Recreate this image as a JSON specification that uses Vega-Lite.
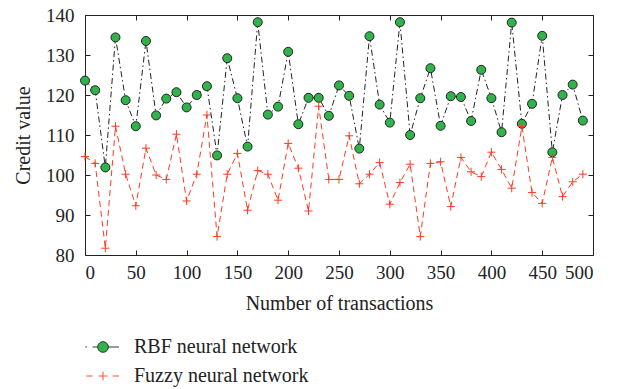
{
  "$schema": "https://vega.github.io/schema/vega-lite/v6.json",
  "width": 508,
  "height": 240,
  "autosize": {"type": "none"},
  "padding": {"left": 85, "top": 15, "right": 29, "bottom": 134},
  "background": "white",
  "config": {
    "view": {"stroke": null},
    "font": "Liberation Serif",
    "axis": {
      "grid": false,
      "domainColor": "#222222",
      "tickColor": "#222222",
      "labelColor": "#222222",
      "titleColor": "#222222",
      "labelFont": "Liberation Serif",
      "titleFont": "Liberation Serif",
      "labelFontSize": 19,
      "titleFontSize": 20,
      "titleFontWeight": "normal",
      "tickSize": -5,
      "domainWidth": 1,
      "tickWidth": 1
    },
    "legend": {
      "title": null,
      "orient": "none",
      "legendX": 8,
      "legendY": 322,
      "direction": "vertical",
      "padding": 0,
      "rowPadding": 9,
      "symbolSize": 256,
      "symbolStrokeWidth": 1,
      "labelFont": "Liberation Serif",
      "labelFontSize": 20,
      "labelColor": "#222222",
      "labelOffset": 21,
      "labelLimit": 400
    }
  },
  "data": {
    "values": [
      {"n": 0, "RBF neural network": 123.6, "Fuzzy neural network": 104.6},
      {"n": 10, "RBF neural network": 121.2, "Fuzzy neural network": 102.9},
      {"n": 20, "RBF neural network": 101.9, "Fuzzy neural network": 81.7},
      {"n": 30, "RBF neural network": 134.4, "Fuzzy neural network": 112.2},
      {"n": 40, "RBF neural network": 118.7, "Fuzzy neural network": 100.2},
      {"n": 50, "RBF neural network": 112.2, "Fuzzy neural network": 92.3},
      {"n": 60, "RBF neural network": 133.5, "Fuzzy neural network": 106.7},
      {"n": 70, "RBF neural network": 114.9, "Fuzzy neural network": 100.0},
      {"n": 80, "RBF neural network": 119.1, "Fuzzy neural network": 98.9},
      {"n": 90, "RBF neural network": 120.7, "Fuzzy neural network": 110.2},
      {"n": 100, "RBF neural network": 116.9, "Fuzzy neural network": 93.5},
      {"n": 110, "RBF neural network": 120.0, "Fuzzy neural network": 100.2},
      {"n": 120, "RBF neural network": 122.2, "Fuzzy neural network": 115.0},
      {"n": 130, "RBF neural network": 104.9, "Fuzzy neural network": 84.6},
      {"n": 140, "RBF neural network": 129.2, "Fuzzy neural network": 100.2},
      {"n": 150, "RBF neural network": 119.2, "Fuzzy neural network": 105.4},
      {"n": 160, "RBF neural network": 107.1, "Fuzzy neural network": 91.2},
      {"n": 170, "RBF neural network": 138.2, "Fuzzy neural network": 101.1},
      {"n": 180, "RBF neural network": 115.1, "Fuzzy neural network": 100.2},
      {"n": 190, "RBF neural network": 117.1, "Fuzzy neural network": 93.7},
      {"n": 200, "RBF neural network": 130.8, "Fuzzy neural network": 107.9},
      {"n": 210, "RBF neural network": 112.7, "Fuzzy neural network": 101.7},
      {"n": 220, "RBF neural network": 119.3, "Fuzzy neural network": 91.0},
      {"n": 230, "RBF neural network": 119.3, "Fuzzy neural network": 117.2},
      {"n": 240, "RBF neural network": 114.8, "Fuzzy neural network": 98.9},
      {"n": 250, "RBF neural network": 122.4, "Fuzzy neural network": 98.9},
      {"n": 260, "RBF neural network": 119.8, "Fuzzy neural network": 109.8},
      {"n": 270, "RBF neural network": 106.6, "Fuzzy neural network": 97.8},
      {"n": 280, "RBF neural network": 134.7, "Fuzzy neural network": 100.2},
      {"n": 290, "RBF neural network": 117.6, "Fuzzy neural network": 103.1},
      {"n": 300, "RBF neural network": 113.1, "Fuzzy neural network": 92.7},
      {"n": 310, "RBF neural network": 138.2, "Fuzzy neural network": 98.1},
      {"n": 320, "RBF neural network": 110.0, "Fuzzy neural network": 102.7},
      {"n": 330, "RBF neural network": 119.2, "Fuzzy neural network": 84.6},
      {"n": 340, "RBF neural network": 126.7, "Fuzzy neural network": 102.9},
      {"n": 350, "RBF neural network": 112.3, "Fuzzy neural network": 103.3},
      {"n": 360, "RBF neural network": 119.7, "Fuzzy neural network": 92.1},
      {"n": 370, "RBF neural network": 119.5, "Fuzzy neural network": 104.4},
      {"n": 380, "RBF neural network": 113.5, "Fuzzy neural network": 100.8},
      {"n": 390, "RBF neural network": 126.3, "Fuzzy neural network": 99.6},
      {"n": 400, "RBF neural network": 119.2, "Fuzzy neural network": 105.7},
      {"n": 410, "RBF neural network": 110.7, "Fuzzy neural network": 101.4},
      {"n": 420, "RBF neural network": 138.1, "Fuzzy neural network": 96.7},
      {"n": 430, "RBF neural network": 112.8, "Fuzzy neural network": 112.1},
      {"n": 440, "RBF neural network": 117.8, "Fuzzy neural network": 95.6},
      {"n": 450, "RBF neural network": 134.8, "Fuzzy neural network": 92.9},
      {"n": 460, "RBF neural network": 105.7, "Fuzzy neural network": 104.4},
      {"n": 470, "RBF neural network": 120.0, "Fuzzy neural network": 94.6},
      {"n": 480, "RBF neural network": 122.6, "Fuzzy neural network": 98.3},
      {"n": 490, "RBF neural network": 113.6, "Fuzzy neural network": 100.2}
    ]
  },
  "transform": [
    {"fold": ["RBF neural network", "Fuzzy neural network"], "as": ["series", "value"]}
  ],
  "layer": [
    {
      "mark": {"type": "line", "strokeWidth": 1},
      "encoding": {
        "x": {
          "field": "n", "type": "quantitative",
          "scale": {"domain": [0, 500], "nice": false, "zero": false},
          "axis": {"values": [0, 50, 100, 150, 200, 250, 300, 350, 400, 450, 500], "title": "Number of transactions", "labelPadding": 13, "titlePadding": 11}
        },
        "y": {
          "field": "value", "type": "quantitative",
          "scale": {"domain": [80, 140], "nice": false, "zero": false},
          "axis": {"values": [80, 90, 100, 110, 120, 130, 140], "title": "Credit value", "labelPadding": 16, "titlePadding": 12}
        },
        "stroke": {
          "field": "series", "type": "nominal",
          "scale": {"domain": ["RBF neural network", "Fuzzy neural network"], "range": ["#222222", "#ff3a21"]},
          "legend": {
            "encode": {
              "symbols": {
                "update": {
                  "shape": {"signal": "datum.value === 'RBF neural network' ? 'M-2.2,0L-2.0,0M-1.3,0L-0.66,0M0.66,0L2,0M0.66,0A0.66,0.66 0 1,1 -0.66,0A0.66,0.66 0 1,1 0.66,0Z' : 'M-2.1,0L-1.3,0M-0.55,0L0.55,0M0,-0.55L0,0.55M1.2,0L2,0'"},
                  "strokeWidth": {"value": 1},
                  "strokeDash": {"value": [1, 0]},
                  "opacity": {"value": 1}
                }
              }
            }
          }
        },
        "strokeDash": {
          "field": "series", "type": "nominal",
          "scale": {"domain": ["Fuzzy neural network", "RBF neural network"], "range": [[6, 4], [6, 3, 1.5, 3]]},
          "legend": null
        }
      }
    },
    {
      "mark": {"type": "point", "opacity": 1, "size": 81, "strokeWidth": 1},
      "encoding": {
        "x": {"field": "n", "type": "quantitative", "axis": null},
        "y": {"field": "value", "type": "quantitative", "axis": null},
        "shape": {
          "field": "series", "type": "nominal",
          "scale": {"domain": ["Fuzzy neural network", "RBF neural network"], "range": ["M-0.9,0H0.9M0,-0.9V0.9", "circle"]},
          "legend": null
        },
        "fill": {
          "field": "series", "type": "nominal",
          "scale": {"domain": ["RBF neural network", "Fuzzy neural network"], "range": ["#30b34a", "transparent"]}
        },
        "stroke": {
          "field": "series", "type": "nominal",
          "scale": {"domain": ["RBF neural network", "Fuzzy neural network"], "range": ["#222222", "#ff3a21"]}
        }
      }
    },
    {
      "mark": {"type": "point", "opacity": 0},
      "encoding": {
        "x": {"field": "n", "type": "quantitative", "axis": {"orient": "top", "values": [0, 50, 100, 150, 200, 250, 300, 350, 400, 450, 500], "labels": false, "title": null}},
        "y": {"field": "value", "type": "quantitative", "axis": {"orient": "right", "values": [80, 90, 100, 110, 120, 130, 140], "labels": false, "title": null}}
      }
    }
  ],
  "resolve": {"axis": {"x": "independent", "y": "independent"}}
}
